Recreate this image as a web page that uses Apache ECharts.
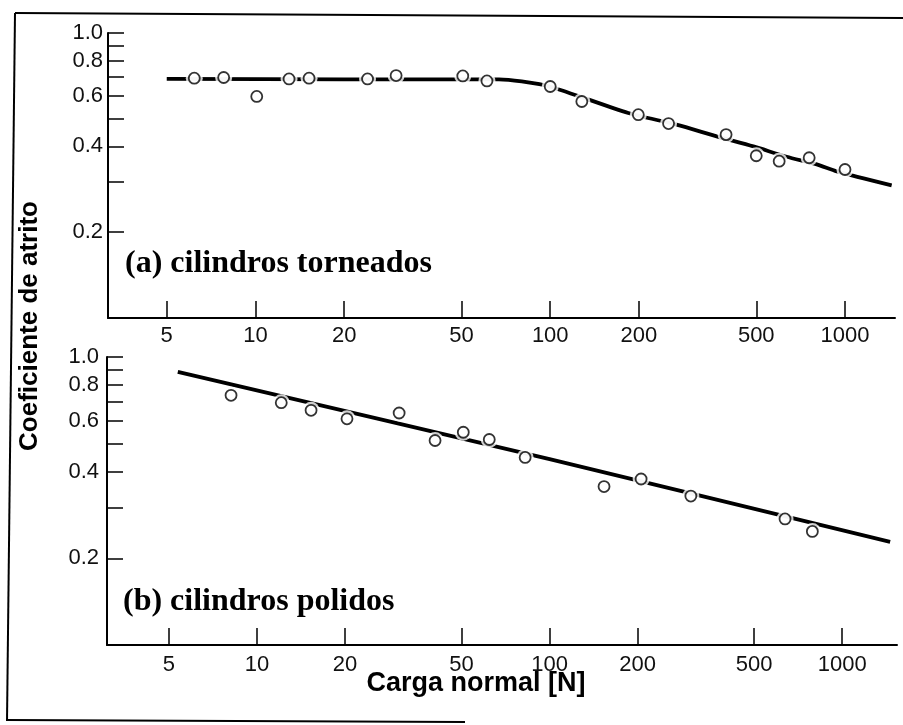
<!DOCTYPE html>
<html>
<head>
<meta charset="utf-8">
<script src="https://cdn.jsdelivr.net/npm/echarts@6/dist/echarts.min.js"></script>
<style>
html,body{margin:0;padding:0;background:#fff;}
#chart{width:903px;height:725px;}
</style>
</head>
<body>
<div id="chart"></div>
<script>
// ---- data ----
// (a) cilindros torneados
const aLoad = [6.2, 7.8, 10.1, 13, 15.2, 24, 30, 50.5, 61, 100, 128, 199, 252, 395, 500, 598, 756, 1000];
const aCoef = [0.694, 0.698, 0.599, 0.690, 0.694, 0.690, 0.709, 0.707, 0.679, 0.649, 0.575, 0.517, 0.481, 0.440, 0.371, 0.355, 0.365, 0.332];
const aFitLoad = [5, 20, 67, 80, 100, 184, 268, 367, 489, 634, 802, 938, 1440];
const aFitCoef = [0.69, 0.688, 0.688, 0.676, 0.648, 0.524, 0.477, 0.434, 0.400, 0.368, 0.346, 0.327, 0.292];
// (b) cilindros polidos
const bLoad = [8.15, 12.1, 15.3, 20.3, 30.6, 40.6, 50.7, 62.2, 82.5, 153.5, 205.5, 304, 638, 791];
const bCoef = [0.736, 0.694, 0.653, 0.610, 0.639, 0.513, 0.548, 0.517, 0.448, 0.355, 0.377, 0.329, 0.274, 0.248];
const bFitLoad = [5.36, 100, 1459];
const bFitCoef = [0.888, 0.442, 0.228];
// axis ticks
const xTickValues = [5, 10, 20, 50, 100, 200, 500, 1000];
const yLabelValues = [0.2, 0.4, 0.6, 0.8, 1.0];
const yTickValues = [0.2, 0.3, 0.4, 0.5, 0.6, 0.7, 0.8, 0.9, 1.0];
const panelLabels = ['(a) cilindros torneados', '(b) cilindros polidos'];
const xTitle = 'Carga normal [N]';
const yTitle = 'Coeficiente de atrito';

const zip = (xs, ys) => xs.map((x, i) => [x, ys[i]]);

const tickFont = { fontFamily: 'Liberation Sans, Arial, sans-serif', fontSize: 22, color: '#111' };

function xAxisCfg(gridIndex, min, max, margin) {
  return {
    type: 'log', gridIndex, min, max, logBase: 10,
    axisLine: { show: true, lineStyle: { color: '#000', width: 2 } },
    axisTick: { show: true, inside: true, length: 17, customValues: xTickValues, lineStyle: { color: '#000', width: 1.5 } },
    axisLabel: Object.assign({ show: true, margin, customValues: xTickValues, formatter: v => String(Math.round(v)) }, tickFont),
    splitLine: { show: false }, minorTick: { show: false }, minorSplitLine: { show: false }
  };
}
function yAxisCfg(gridIndex, margin) {
  return {
    type: 'log', gridIndex, min: 0.1, max: 1.0, logBase: 10,
    axisLine: { show: true, lineStyle: { color: '#000', width: 2 } },
    axisTick: { show: true, inside: true, length: 16, customValues: yTickValues, lineStyle: { color: '#000', width: 1.5 } },
    axisLabel: Object.assign({ show: true, margin, customValues: yLabelValues, formatter: v => Number(v).toFixed(1) }, tickFont),
    splitLine: { show: false }, minorTick: { show: false }, minorSplitLine: { show: false }
  };
}
function panelSeries(idx, load, coef, fitLoad, fitCoef) {
  return [
    { type: 'line', xAxisIndex: idx, yAxisIndex: idx, data: zip(fitLoad, fitCoef), showSymbol: false, smooth: 0.25,
      lineStyle: { color: '#000', width: 3.8 }, z: 2, silent: true },
    { type: 'scatter', xAxisIndex: idx, yAxisIndex: idx, data: zip(load, coef), symbol: 'circle', symbolSize: 17,
      itemStyle: { color: '#fff' }, z: 3, silent: true },
    { type: 'scatter', xAxisIndex: idx, yAxisIndex: idx, data: zip(load, coef), symbol: 'circle', symbolSize: 11,
      itemStyle: { color: '#fff', borderColor: '#000', borderWidth: 1.8 }, z: 4, silent: true }
  ];
}

const chart = echarts.init(document.getElementById('chart'), null, { renderer: 'canvas' });
chart.setOption({
  animation: false,
  backgroundColor: '#fff',
  grid: [
    { left: 108, top: 33, width: 787, height: 285, containLabel: false },
    { left: 107, top: 357, width: 790, height: 288, containLabel: false }
  ],
  xAxis: [ xAxisCfg(0, 3.16, 1478, 7), xAxisCfg(1, 3.07, 1540, 9) ],
  yAxis: [ yAxisCfg(0, 5), yAxisCfg(1, 8) ],
  series: [].concat(
    panelSeries(0, aLoad, aCoef, aFitLoad, aFitCoef),
    panelSeries(1, bLoad, bCoef, bFitLoad, bFitCoef)
  ),
  graphic: [
    { type: 'line', shape: { x1: 15, y1: 13, x2: 903, y2: 18 }, style: { stroke: '#000', lineWidth: 2 } },
    { type: 'line', shape: { x1: 15, y1: 13, x2: 7, y2: 721 }, style: { stroke: '#000', lineWidth: 2 } },
    { type: 'line', shape: { x1: 7, y1: 720, x2: 465, y2: 722 }, style: { stroke: '#000', lineWidth: 2 } },
    { type: 'text', x: 125, y: 264, style: { text: panelLabels[0], font: 'bold 32px "Liberation Serif", "Times New Roman", serif', fill: '#000', textAlign: 'left', textVerticalAlign: 'middle' } },
    { type: 'text', x: 123, y: 602, style: { text: panelLabels[1], font: 'bold 32px "Liberation Serif", "Times New Roman", serif', fill: '#000', textAlign: 'left', textVerticalAlign: 'middle' } },
    { type: 'text', x: 476, y: 684, style: { text: xTitle, font: 'bold 27px "Liberation Sans", Arial, sans-serif', fill: '#000', textAlign: 'center', textVerticalAlign: 'middle' } },
    { type: 'text', x: 30, y: 326, rotation: Math.PI / 2, style: { text: yTitle, font: 'bold 26px "Liberation Sans", Arial, sans-serif', fill: '#000', textAlign: 'center', textVerticalAlign: 'middle' } }
  ]
});
</script>
</body>
</html>
